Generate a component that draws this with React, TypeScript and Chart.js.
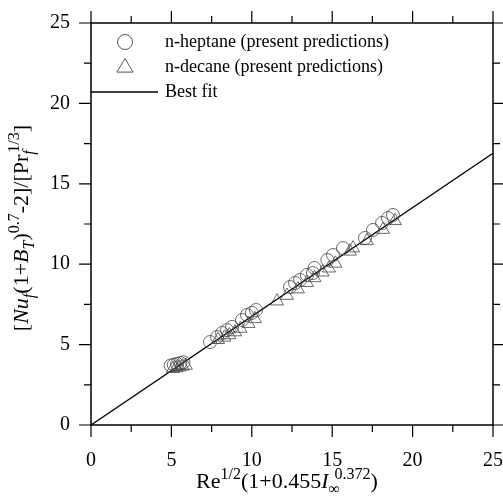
import React, { useEffect, useRef } from "react";
import { Chart, registerables } from "chart.js";

Chart.register(...registerables);

const xTicks = [0, 5, 10, 15, 20, 25];
const yTicks = [0, 5, 10, 15, 20, 25];

const heptaneX = [4.95, 5.15, 5.35, 5.55, 5.75, 7.4, 7.84, 8.15, 8.46, 8.77, 9.39, 9.7, 10.0, 10.26, 12.38, 12.69, 13.0, 13.43, 13.8, 13.9, 14.7, 15.05, 15.67, 17.04, 17.54, 18.1, 18.47, 18.78];
const heptaneY = [3.7, 3.75, 3.8, 3.85, 3.9, 5.16, 5.47, 5.72, 5.9, 6.1, 6.53, 6.84, 6.97, 7.15, 8.58, 8.83, 9.02, 9.33, 9.45, 9.76, 10.26, 10.57, 11.0, 11.63, 12.13, 12.56, 12.87, 13.06];

const decaneX = [5.1, 5.3, 5.5, 5.7, 5.9, 7.9, 8.3, 8.6, 8.96, 9.3, 9.8, 10.2, 11.57, 12.19, 12.87, 13.43, 13.9, 14.4, 14.8, 15.2, 16.1, 16.3, 17.16, 18.16, 18.9];
const decaneY = [3.5, 3.55, 3.6, 3.65, 3.7, 5.3, 5.45, 5.6, 5.78, 6.0, 6.3, 6.6, 7.7, 8.05, 8.45, 8.85, 9.15, 9.5, 9.75, 10.05, 10.8, 11.0, 11.45, 12.15, 12.7];

const fitX = [0, 25];
const fitY = [0, 16.9];

const legendLabels = ["n-heptane (present predictions)", "n-decane (present predictions)", "Best fit"];

const SERIF = "'Liberation Serif', 'Times New Roman', serif";
const MARK = "#444";

type Seg = { t: string; it?: boolean; sm?: boolean; dy?: number; stack?: boolean; dx?: number };

function drawRich(ctx: CanvasRenderingContext2D, segs: Seg[], cx: number, cy: number, big: number, small: number, rot: number) {
  const font = (s: Seg) => `${s.it ? "italic " : ""}${s.sm ? small : big}px ${SERIF}`;
  const xs: number[] = [];
  let prevStart = 0;
  let maxEnd = 0;
  for (const s of segs) {
    ctx.font = font(s);
    const w = ctx.measureText(s.t).width;
    const start = (s.stack ? prevStart : maxEnd) + (s.dx || 0);
    xs.push(start);
    prevStart = start;
    maxEnd = Math.max(maxEnd, start + w);
  }
  const total = maxEnd;
  ctx.save();
  ctx.translate(cx, cy);
  ctx.rotate(rot);
  ctx.fillStyle = "#000";
  ctx.textBaseline = "alphabetic";
  ctx.textAlign = "left";
  segs.forEach((s, i) => {
    ctx.font = font(s);
    ctx.fillText(s.t, xs[i] - total / 2, (s.dy || 0) + big * 0.33);
  });
  ctx.restore();
}

const framePlugin = {
  id: "frame",
  afterDraw(chart: any) {
    const { ctx, chartArea: a, scales } = chart;
    const xs = scales.x;
    const ys = scales.y;
    ctx.save();
    ctx.strokeStyle = "#000";
    ctx.lineWidth = 1.5;
    ctx.strokeRect(a.left, a.top, a.right - a.left, a.bottom - a.top);
    ctx.lineWidth = 1.2;
    for (let v = 0; v <= 25; v += 2.5) {
      const major = Math.abs(v % 5) < 1e-9;
      const len = major ? 12 : 7;
      const px = xs.getPixelForValue(v);
      const py = ys.getPixelForValue(v);
      ctx.beginPath();
      ctx.moveTo(px, a.bottom);
      ctx.lineTo(px, a.bottom + len);
      ctx.moveTo(px, a.top);
      ctx.lineTo(px, a.top - len);
      ctx.moveTo(a.left, py);
      ctx.lineTo(a.left - len, py);
      ctx.moveTo(a.right, py);
      ctx.lineTo(a.right + len, py);
      ctx.stroke();
    }

    // legend
    const lx = a.left + 34;
    const tx = a.left + 74;
    const rows = [a.top + 19, a.top + 44, a.top + 69];
    ctx.strokeStyle = MARK;
    ctx.lineWidth = 0.9;
    ctx.beginPath();
    ctx.arc(lx, rows[0], 7.5, 0, Math.PI * 2);
    ctx.stroke();
    const tr = 8.5;
    ctx.beginPath();
    ctx.moveTo(lx, rows[1] - tr);
    ctx.lineTo(lx + tr * 0.95, rows[1] + tr * 0.6);
    ctx.lineTo(lx - tr * 0.95, rows[1] + tr * 0.6);
    ctx.closePath();
    ctx.stroke();
    ctx.strokeStyle = "#000";
    ctx.lineWidth = 1.3;
    ctx.beginPath();
    ctx.moveTo(a.left, rows[2]);
    ctx.lineTo(a.left + 67, rows[2]);
    ctx.stroke();
    ctx.fillStyle = "#000";
    ctx.font = `18px ${SERIF}`;
    ctx.textBaseline = "middle";
    ctx.textAlign = "left";
    legendLabels.forEach((l, i) => ctx.fillText(l, tx, rows[i]));

    // axis titles
    const big = 22;
    const small = 16;
    drawRich(
      ctx,
      [
        { t: "Re" },
        { t: "1/2", sm: true, dy: -9 },
        { t: "(1+0.455" },
        { t: "I", it: true },
        { t: "\u221e", sm: true, dy: 6 },
        { t: "0.372", sm: true, dy: -9, stack: true, dx: 6 },
        { t: ")" },
      ],
      287,
      481,
      big,
      small,
      0
    );
    drawRich(
      ctx,
      [
        { t: "[" },
        { t: "Nu", it: true },
        { t: "f", it: true, sm: true, dy: 6 },
        { t: "(1+" },
        { t: "B", it: true },
        { t: "T", it: true, sm: true, dy: 6 },
        { t: ")" },
        { t: "0.7", sm: true, dy: -9 },
        { t: "-2]/[Pr" },
        { t: "f", it: true, sm: true, dy: 6 },
        { t: "1/3", sm: true, dy: -9, stack: true, dx: 2 },
        { t: "]" },
      ],
      21,
      228,
      big,
      small,
      -Math.PI / 2
    );
    ctx.restore();
  },
};

export default function App() {
  const ref = useRef<HTMLCanvasElement>(null);
  useEffect(() => {
    document.body.style.margin = "0";
    const ctx = ref.current!.getContext("2d")!;
    const chart = new Chart(ctx, {
      type: "scatter",
      data: {
        datasets: [
          {
            label: legendLabels[0],
            data: heptaneX.map((x, i) => ({ x, y: heptaneY[i] })),
            pointStyle: "circle",
            pointRadius: 6.5,
            borderColor: MARK,
            backgroundColor: "rgba(0,0,0,0)",
            borderWidth: 0.8,
          },
          {
            label: legendLabels[1],
            data: decaneX.map((x, i) => ({ x, y: decaneY[i] })),
            pointStyle: "triangle",
            pointRadius: 7.5,
            borderColor: MARK,
            backgroundColor: "rgba(0,0,0,0)",
            borderWidth: 0.8,
          },
          {
            type: "line",
            label: legendLabels[2],
            data: fitX.map((x, i) => ({ x, y: fitY[i] })),
            borderColor: "#000",
            borderWidth: 1.4,
            pointRadius: 0,
            fill: false,
          } as any,
        ],
      },
      options: {
        animation: false,
        responsive: false,
        maintainAspectRatio: false,
        layout: { padding: { top: 23, right: 10, left: 0, bottom: 0 } },
        plugins: { legend: { display: false }, tooltip: { enabled: false } },
        scales: {
          x: {
            type: "linear",
            min: 0,
            max: 25,
            afterFit: (s: any) => {
              s.height = 72;
              s.paddingLeft = 0;
              s.paddingRight = 0;
              s.paddingTop = 0;
              s.paddingBottom = 0;
            },
            afterBuildTicks: (s: any) => {
              s.ticks = xTicks.map((v) => ({ value: v }));
            },
            grid: { display: false, drawTicks: false },
            border: { display: false },
            ticks: { color: "#000", font: { family: SERIF, size: 20 }, padding: 24, maxRotation: 0 },
          },
          y: {
            type: "linear",
            min: 0,
            max: 25,
            afterFit: (s: any) => {
              s.width = 91;
              s.paddingLeft = 0;
              s.paddingRight = 0;
              s.paddingTop = 0;
              s.paddingBottom = 0;
            },
            afterBuildTicks: (s: any) => {
              s.ticks = yTicks.map((v) => ({ value: v }));
            },
            grid: { display: false, drawTicks: false },
            border: { display: false },
            ticks: { color: "#000", font: { family: SERIF, size: 20 }, padding: 21 },
          },
        },
      },
      plugins: [framePlugin],
    });
    return () => chart.destroy();
  }, []);
  return (
    <div style={{ position: "fixed", left: 0, top: 0, width: 503, height: 497 }}>
      <canvas ref={ref} width={503} height={497} style={{ width: 503, height: 497 }} />
    </div>
  );
}
